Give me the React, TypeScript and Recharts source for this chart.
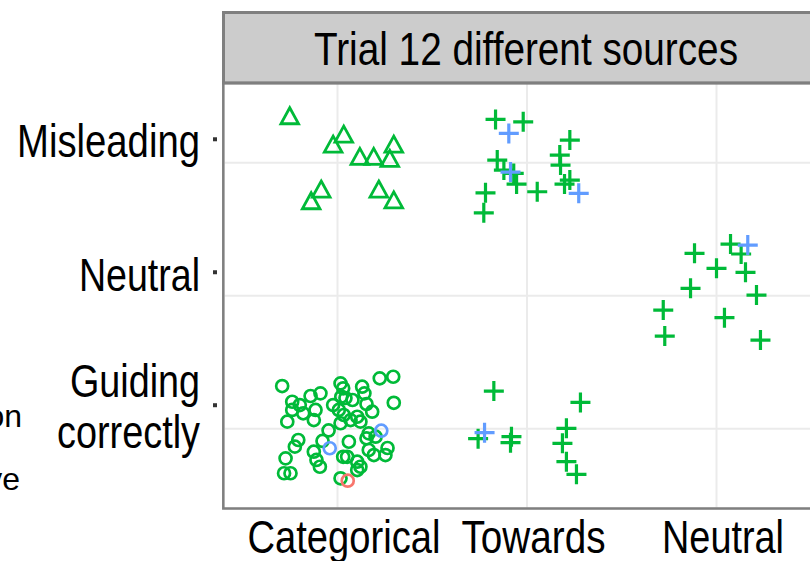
import React from 'react'
import { ScatterChart, Scatter, XAxis, YAxis, CartesianGrid } from 'recharts'

// x: 1 = Categorical, 2 = Towards, 3 = Neutral
// y: 1 = Guiding correctly, 2 = Neutral, 3 = Misleading
const xCategories = ['Categorical', 'Towards', 'Neutral']
const yCategories = ['Guiding correctly', 'Neutral', 'Misleading']
const stripTitle = 'Trial 12 different sources'

// jittered responses, categorical source, misleading answer
const triangleGreen = [
  { x: 0.748, y: 3.346 }, { x: 1.033, y: 3.208 }, { x: 0.977, y: 3.133 }, { x: 1.118, y: 3.041 },
  { x: 1.191, y: 3.041 }, { x: 1.297, y: 3.133 }, { x: 1.276, y: 3.026 }, { x: 0.914, y: 2.795 },
  { x: 0.861, y: 2.707 }, { x: 1.218, y: 2.795 }, { x: 1.297, y: 2.714 },
]

// categorical source, guiding correctly
const circleGreen = [
  { x: 0.708, y: 1.321 }, { x: 0.761, y: 1.203 }, { x: 0.761, y: 1.141 }, { x: 0.735, y: 1.053 },
  { x: 0.801, y: 1.178 }, { x: 0.819, y: 1.116 }, { x: 0.858, y: 1.246 }, { x: 0.91, y: 1.266 },
  { x: 0.884, y: 1.141 }, { x: 0.875, y: 1.065 }, { x: 0.977, y: 1.178 }, { x: 1.016, y: 1.341 },
  { x: 1.03, y: 1.304 }, { x: 1.02, y: 1.241 }, { x: 1.007, y: 1.141 }, { x: 1.033, y: 1.103 },
  { x: 1.016, y: 1.041 }, { x: 1.069, y: 1.065 }, { x: 1.104, y: 1.09 }, { x: 1.13, y: 1.316 },
  { x: 1.142, y: 1.266 }, { x: 1.121, y: 1.053 }, { x: 1.183, y: 1.128 }, { x: 1.223, y: 1.379 },
  { x: 1.294, y: 1.391 }, { x: 1.297, y: 1.195 }, { x: 1.165, y: 0.965 }, { x: 1.201, y: 0.94 },
  { x: 1.153, y: 0.928 }, { x: 0.793, y: 0.915 }, { x: 0.775, y: 0.865 }, { x: 1.06, y: 0.902 },
  { x: 0.875, y: 0.827 }, { x: 0.889, y: 0.765 }, { x: 0.907, y: 0.714 }, { x: 0.726, y: 0.777 },
  { x: 0.718, y: 0.665 }, { x: 0.752, y: 0.665 }, { x: 1.03, y: 0.789 }, { x: 1.051, y: 0.789 },
  { x: 1.104, y: 0.752 }, { x: 1.165, y: 0.84 }, { x: 1.192, y: 0.802 }, { x: 1.253, y: 0.802 },
  { x: 1.121, y: 0.714 }, { x: 1.104, y: 0.689 }, { x: 1.016, y: 0.627 }, { x: 0.953, y: 0.987 },
  { x: 1.079, y: 1.216 }, { x: 1.153, y: 1.186 }, { x: 1.264, y: 0.855 }, { x: 0.921, y: 0.908 },
  { x: 1.042, y: 1.231 },
]
const circleBlue = [{ x: 1.231, y: 0.985 }, { x: 0.959, y: 0.853 }]
const circleRed = [{ x: 1.054, y: 0.609 }]

// towards / neutral sources
const plusGreen = [
  { x: 1.834, y: 3.326 }, { x: 1.98, y: 3.308 }, { x: 2.226, y: 3.171 }, { x: 2.173, y: 3.058 },
  { x: 1.843, y: 3.02 }, { x: 1.878, y: 2.945 }, { x: 1.93, y: 2.92 }, { x: 2.177, y: 2.983 },
  { x: 1.945, y: 2.84 }, { x: 2.054, y: 2.782 }, { x: 2.198, y: 2.84 }, { x: 2.226, y: 2.87 },
  { x: 1.781, y: 2.774 }, { x: 1.772, y: 2.624 },
  { x: 2.884, y: 2.319 }, { x: 3.074, y: 2.389 }, { x: 3.13, y: 2.314 }, { x: 3.0, y: 2.206 },
  { x: 3.153, y: 2.176 }, { x: 2.863, y: 2.056 }, { x: 3.211, y: 2.005 }, { x: 2.719, y: 1.892 },
  { x: 3.042, y: 1.835 }, { x: 2.727, y: 1.697 }, { x: 3.232, y: 1.667 },
  { x: 1.825, y: 1.283 }, { x: 1.742, y: 0.925 }, { x: 1.918, y: 0.94 }, { x: 1.913, y: 0.895 },
  { x: 2.282, y: 1.198 }, { x: 2.208, y: 1.003 }, { x: 2.187, y: 0.89 }, { x: 2.208, y: 0.752 },
  { x: 2.261, y: 0.657 },
]
const plusBlue = [
  { x: 1.904, y: 3.221 }, { x: 1.913, y: 2.93 }, { x: 2.273, y: 2.77 },
  { x: 3.165, y: 2.381 }, { x: 1.776, y: 0.97 },
]

const GREEN = '#00BA38'
const BLUE = '#619CFF'
const RED = '#F8766D'
const FONT = "'Liberation Sans Narrow', 'Liberation Sans', Arial, sans-serif"

const circleShape = (color: string) => (props: any) => (
  <circle cx={props.cx} cy={props.cy} r={6} fill="none" stroke={color} strokeWidth={2.7} />
)

const triangleShape = (color: string) => (props: any) => {
  const { cx, cy } = props
  return (
    <path
      d={`M${cx},${cy - 9} L${cx + 8.8},${cy + 7} L${cx - 8.8},${cy + 7} Z`}
      fill="none"
      stroke={color}
      strokeWidth={2.8}
    />
  )
}

const plusShape = (color: string) => (props: any) => {
  const { cx, cy } = props
  return (
    <g stroke={color} strokeWidth={3.2}>
      <line x1={cx - 10} x2={cx + 10} y1={cy} y2={cy} />
      <line x1={cx} x2={cx} y1={cy - 10} y2={cy + 10} />
    </g>
  )
}

// label lines: [text, baseline offset from gridline, drawn width]
const yLabelLines: Record<string, [string, number, number][]> = {
  'Misleading': [['Misleading', -5.7, 183]],
  'Neutral': [['Neutral', -5, 121]],
  'Guiding correctly': [['Guiding', -32, 130], ['correctly', 19.3, 143]],
}
const xLabelWidths: Record<string, number> = { Categorical: 193, Towards: 144, Neutral: 122 }

const YTick = (props: any) => {
  const { y, payload } = props
  const name = yCategories[payload.value - 1]
  const lines = yLabelLines[name] || []
  return (
    <g>
      {lines.map(([t, dy, w]) => (
        <text key={t} x={200} y={y + dy} textAnchor="end" fontSize={46} fontFamily={FONT} fill="#000"
          textLength={w} lengthAdjust="spacingAndGlyphs">{t}</text>
      ))}
      <rect x={213} y={y - 25.5} width={4} height={4} fill="#333" />
    </g>
  )
}

const XTick = (props: any) => {
  const { x, payload } = props
  const name = xCategories[payload.value - 1]
  return (
    <text x={x + 6.5} y={553} textAnchor="middle" fontSize={46} fontFamily={FONT} fill="#000"
      textLength={xLabelWidths[name]} lengthAdjust="spacingAndGlyphs">{name}</text>
  )
}

export default function App() {
  return (
    <div style={{ position: 'absolute', left: 0, top: 0, width: 810, height: 561, overflow: 'hidden', background: '#fff' }}>
      <ScatterChart width={840} height={561} margin={{ top: 83, right: 9.8, bottom: 0, left: 0 }}>
        <CartesianGrid stroke="#EBEBEB" strokeWidth={2} />
        <XAxis type="number" dataKey="x" domain={[0.4, 3.6]} ticks={[1, 2, 3]} interval={0} height={52.5}
          axisLine={false} tickLine={false} tick={(p: any) => <XTick {...p} />} allowDataOverflow />
        <YAxis type="number" dataKey="y" domain={[0.4, 3.6]} ticks={[1, 2, 3]} interval={0} width={223.8}
          axisLine={false} tickLine={false} tick={(p: any) => <YTick {...p} />} allowDataOverflow />
        <Scatter data={triangleGreen} shape={triangleShape(GREEN)} isAnimationActive={false} />
        <Scatter data={circleGreen} shape={circleShape(GREEN)} isAnimationActive={false} />
        <Scatter data={plusGreen} shape={plusShape(GREEN)} isAnimationActive={false} />
        <Scatter data={circleBlue} shape={circleShape(BLUE)} isAnimationActive={false} />
        <Scatter data={plusBlue} shape={plusShape(BLUE)} isAnimationActive={false} />
        <Scatter data={circleRed} shape={circleShape(RED)} isAnimationActive={false} />
      </ScatterChart>
      <svg width={810} height={561} style={{ position: 'absolute', left: 0, top: 0, pointerEvents: 'none' }}>
        {/* facet strip */}
        <rect x={223.5} y={12.5} width={700} height={70.5} fill="#CCCCCC" stroke="#7F7F7F" strokeWidth={3} />
        <text x={526} y={64.5} textAnchor="middle" fontSize={47} fontFamily={FONT} fill="#000"
          textLength={424} lengthAdjust="spacingAndGlyphs">{stripTitle}</text>
        {/* panel border */}
        <rect x={223.3} y={83} width={700} height={425.5} fill="none" stroke="#7F7F7F" strokeWidth={2.5} />
        {/* legend text clipped at the left edge */}
        <text x={22} y={427} textAnchor="end" fontSize={32} fontFamily={FONT} fill="#000">on</text>
        <text x={20} y={490} textAnchor="end" fontSize={32} fontFamily={FONT} fill="#000">ve</text>
      </svg>
    </div>
  )
}
